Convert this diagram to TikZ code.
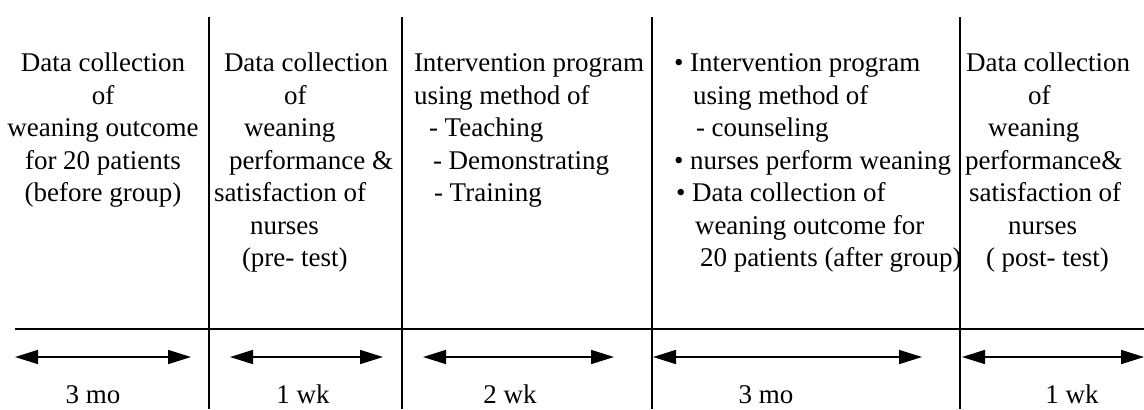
\documentclass[tikz,border=0pt]{standalone}
\usepackage{fontspec}
\setmainfont{Liberation Serif}
\usetikzlibrary{arrows.meta,positioning}

% leading space inside a line of a phase box
\newcommand{\pad}[1]{\hspace*{#1pt}}

\begin{document}
\begin{tikzpicture}[x=0.5pt, y=-0.5pt, line width=1pt,
    every node/.style={inner sep=0pt, font=\fontsize{13.5}{16.25}\selectfont},
    phase/.style={anchor=north west, align=left},
    period/.style={{Triangle[length=11.5pt,width=7pt]}-{Triangle[length=11.5pt,width=7pt]}, line width=0.8pt},
    dur/.style={anchor=base}]
  \useasboundingbox (0,0) rectangle (1144,409);

  % separators and time axis
  \foreach \x [count=\i] in {209,402,652,960} {
    \coordinate (top\i) at (\x,17);
    \coordinate (bot\i) at (\x,409);
    \draw (top\i) -- (bot\i);
  }
  \coordinate (axisL) at (15,329);
  \coordinate (axisR) at (1144,329);
  \draw (axisL) -- (axisR);

  % what happens in each phase
  \node[phase, anchor=north, align=center] (p1) at (103,48)
    {\strut Data collection\\ of\\ weaning outcome\\ for 20 patients\\ (before group)};
  \node[phase] (p2) at (213,48)
    {\strut\pad{5}Data collection\\ \pad{35}of\\ \pad{15}weaning\\ \pad{7.5}performance \&\\
     satisfaction of\\ \pad{18}nurses\\ \pad{14}(pre- test)};
  \node[phase] (p3) at (413,48)
    {\strut Intervention program\\ using method of\\ \pad{7.5}- Teaching\\
     \pad{9.5}- Demonstrating\\ \pad{10}- Training};
  \node[phase] (p4) at (673,48)
    {\strut\textbullet\ Intervention program\\ \pad{9.5}using method of\\ \pad{11}- counseling\\
     \textbullet\ nurses perform weaning\\ \pad{1}\textbullet\ Data collection of\\
     \pad{10.5}weaning outcome for\\ \pad{13}20 patients (after group)};
  \node[phase] (p5) at (964,48)
    {\strut\pad{0.5}Data collection\\ \pad{31.5}of\\ \pad{11.5}weaning\\ performance\&\\
     \pad{2}satisfaction of\\ \pad{21.5}nurses\\ \pad{10.5}( post- test)};

  % duration of each phase
  \foreach \a/\b [count=\i] in {15/191, 230/383, 423/614, 653/922, 962/1144} {
    \coordinate (s\i) at (\a,357);
    \coordinate (e\i) at (\b,357);
    \draw[period] (s\i) -- (e\i);
  }
  \node[dur] (d1) at (93,403) {3 mo};
  \node[dur] (d2) at (303,403) {1 wk};
  \node[dur] (d3) at (510,403) {2 wk};
  \node[dur] (d4) at (766,403) {3 mo};
  \node[dur] (d5) at (1072,403) {1 wk};
\end{tikzpicture}
\end{document}
